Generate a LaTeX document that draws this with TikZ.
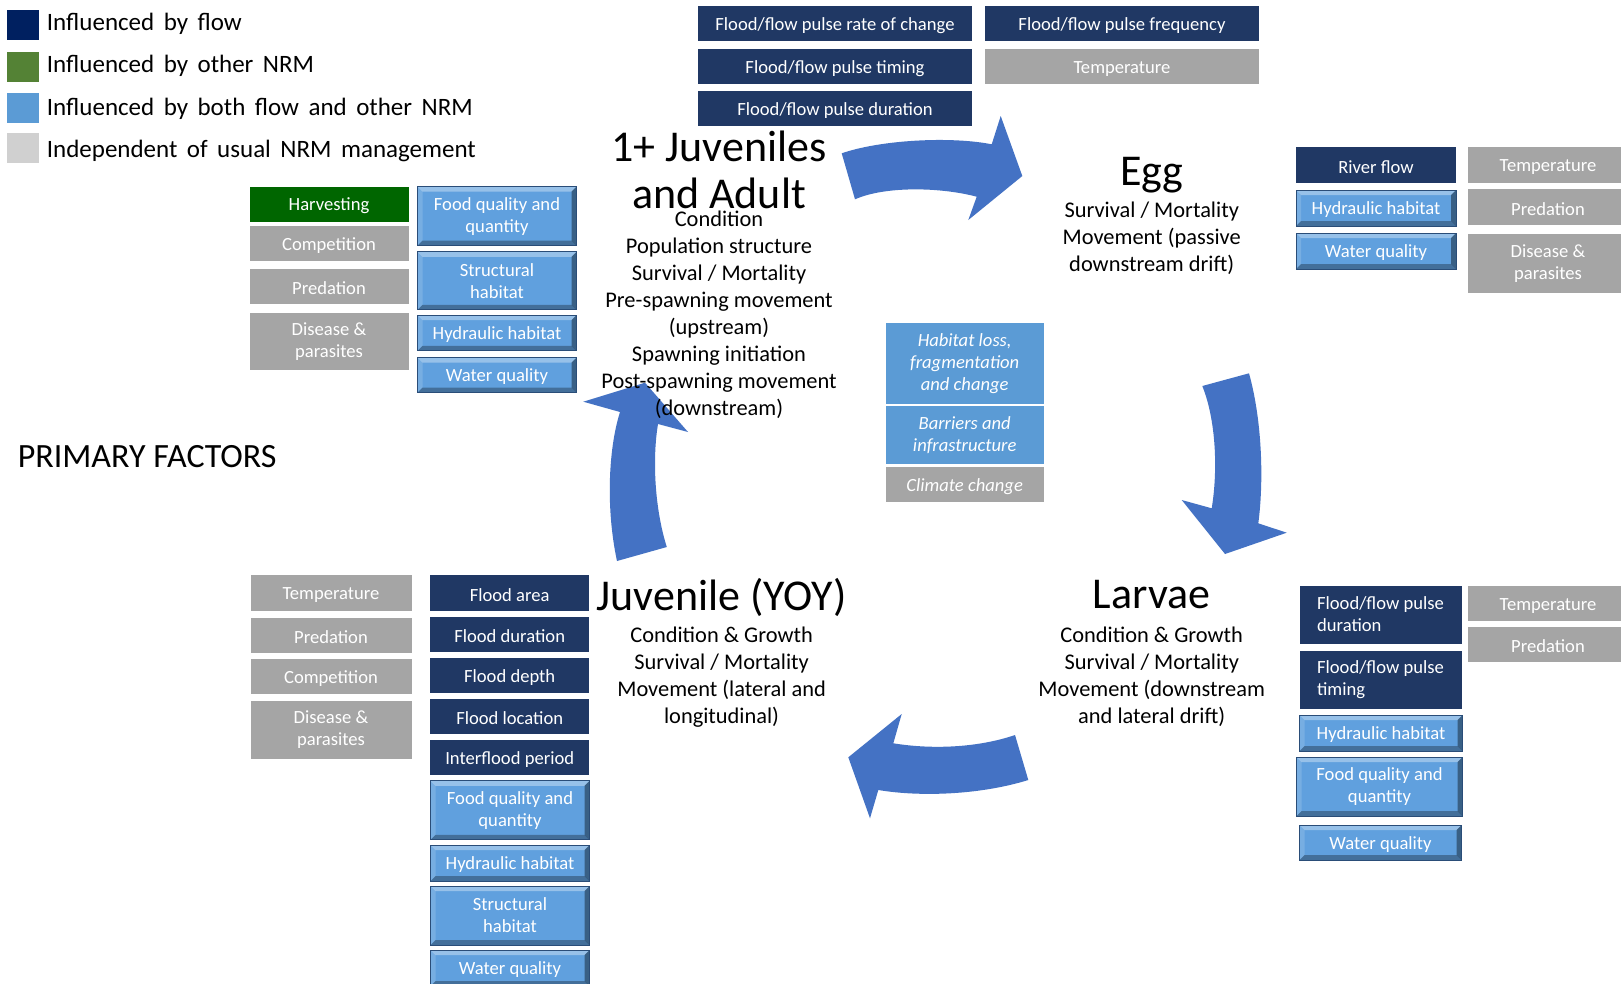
\documentclass[tikz,border=0pt]{standalone}
\usepackage{fontspec}
\setmainfont{Carlito}
\usetikzlibrary{calc}

\definecolor{flowblue}{HTML}{203864}
\definecolor{legnavy}{HTML}{002060}
\definecolor{leggreen}{HTML}{548235}
\definecolor{bothblue}{HTML}{5B9BD5}
\definecolor{leggrey}{HTML}{D0D0D0}
\definecolor{boxgrey}{HTML}{A5A5A5}
\definecolor{harvgreen}{HTML}{006600}
\definecolor{bevelblue}{HTML}{60A0DE}
\definecolor{bevelline}{HTML}{2A4D78}
\definecolor{arrowblue}{HTML}{4472C4}

\newcommand\fbfont{\fontsize{18.6}{22}\selectfont}
\newcommand\ttlfont{\fontsize{44}{47.3}\selectfont}
\newcommand\bdfont{\fontsize{22.4}{27}\selectfont}
\newcommand\legfont{\fontsize{25}{30}\selectfont\spaceskip=0.38em plus 0.05em}

\tikzset{
  % the strut lowers box labels a little so that they sit optically centred
  fbox/.style={rectangle, inner sep=0pt, text=white, font=\fbfont, align=center,
    minimum width=159pt, minimum height=35pt,
    execute at begin node={\rule{0pt}{16.5pt}}},
  wide/.style={minimum width=274pt},
  flowbox/.style={fbox, fill=flowblue},
  greybox/.style={fbox, fill=boxgrey},
  greenbox/.style={fbox, fill=harvgreen},
  flatbox/.style={fbox, fill=bothblue, draw=white, line width=0.8pt, font=\fbfont\itshape},
  bothbox/.style={fbox, fill=bevelblue, draw=bevelline, line width=0.9pt,
    path picture={
      \fill[white,opacity=.35] (path picture bounding box.north west)
        -- (path picture bounding box.north east)
        -- ([shift={(-5pt,-5pt)}]path picture bounding box.north east)
        -- ([shift={(5pt,-5pt)}]path picture bounding box.north west) -- cycle;
      \fill[white,opacity=.15] (path picture bounding box.north west)
        -- ([shift={(5pt,-5pt)}]path picture bounding box.north west)
        -- ([shift={(5pt,5pt)}]path picture bounding box.south west)
        -- (path picture bounding box.south west) -- cycle;
      \fill[black,opacity=.30] (path picture bounding box.south west)
        -- ([shift={(5pt,5pt)}]path picture bounding box.south west)
        -- ([shift={(-5pt,5pt)}]path picture bounding box.south east)
        -- (path picture bounding box.south east) -- cycle;
      \fill[black,opacity=.40] (path picture bounding box.north east)
        -- (path picture bounding box.south east)
        -- ([shift={(-5pt,5pt)}]path picture bounding box.south east)
        -- ([shift={(-5pt,-5pt)}]path picture bounding box.north east) -- cycle;
    }},
  legsq/.style={rectangle, inner sep=0pt, minimum width=32pt, minimum height=30pt},
  legtext/.style={anchor=base west, inner sep=0pt, font=\legfont},
  % multi-line blocks are placed by the baseline of their last line
  ttl/.style={anchor=base, inner sep=0pt, align=center, font=\ttlfont},
  bd/.style={anchor=base, inner sep=0pt, align=center, font=\bdfont},
  cyclearrow/.style={fill=arrowblue}
}

\begin{document}
\begin{tikzpicture}[x=1pt,y=-1pt]
\useasboundingbox (0,0) rectangle (1621,983);
\fill[white] (0,0) rectangle (1621,983);
\clip (0,0) rectangle (1621,983);

% ---- legend ----
\node[legsq, fill=legnavy]  (lsq1) at (23.2,24.5) {};
\node[legsq, fill=leggreen] (lsq2) at (23.2,66.5) {};
\node[legsq, fill=bothblue] (lsq3) at (23.2,108.3) {};
\node[legsq, fill=leggrey]  (lsq4) at (23.2,147.5) {};
\node[legtext] (ltx1) at (46.7,30.7)  {Influenced by flow};
\node[legtext] (ltx2) at (46.7,72.7)  {Influenced by other NRM};
\node[legtext] (ltx3) at (46.7,115)   {Influenced by both flow and other NRM};
\node[legtext] (ltx4) at (46.7,157.3) {Independent of usual NRM management};

\node[anchor=base west, inner sep=0pt, font=\fontsize{34}{38}\selectfont]
  (primary) at (17.6,467) {PRIMARY FACTORS};

% ---- life-cycle arrows ----
\fill[cyclearrow] (841.7,153.3) .. controls (880,140) and (950,136) .. (991.7,144.3)
  -- (1000.7,116) -- (1022.3,176) -- (968.3,220) -- (976.7,196.7)
  .. controls (940,187) and (885,186) .. (855,199.3) -- cycle;
\fill[cyclearrow] (1202.3,386) -- (1249,373.3) .. controls (1262,420) and (1264,480) .. (1258.3,523.3)
  -- (1286.7,532.7) -- (1225,554) -- (1181.7,500) -- (1211.7,508.3)
  .. controls (1218,470) and (1216,420) .. (1202.3,386) -- cycle;
\fill[cyclearrow] (1015,735) -- (1028.3,780) .. controls (980,795) and (920,797) .. (878.3,790)
  -- (870,818.3) -- (848.3,757.3) -- (901.7,714) -- (893.3,743.3)
  .. controls (935,750) and (980,747) .. (1015,735) -- cycle;
\fill[cyclearrow] (617,561) -- (666.8,547) .. controls (655,510) and (652,460) .. (658,424)
  -- (688,432) -- (645,382.7) -- (583.3,401.7) -- (620,412)
  .. controls (608,450) and (606,510) .. (617,561) -- cycle;

% ---- factors above the egg transition ----
\node[flowbox, wide] (t1) at (835,23.5)  {Flood/flow pulse rate of change};
\node[flowbox, wide] (t2) at (1122,23.5) {Flood/flow pulse frequency};
\node[flowbox, wide] (t3) at (835,66.5)  {Flood/flow pulse timing};
\node[greybox, wide] (t4) at (1122,66.5) {Temperature};
\node[flowbox, wide] (t5) at (835,108.5) {Flood/flow pulse duration};

% ---- egg factors ----
\node[flowbox, minimum width=160pt, minimum height=36pt] (e1) at (1376,165) {River flow};
\node[bothbox, minimum width=160pt, minimum height=36pt] (e2) at (1376,208) {Hydraulic habitat};
\node[bothbox, minimum width=160pt, minimum height=36pt] (e3) at (1376,251) {Water quality};
\node[greybox, minimum width=160pt, minimum height=36pt] (e4) at (1548,165) {Temperature};
\node[greybox, minimum width=160pt, minimum height=36pt] (e5) at (1548,207) {Predation};
\node[greybox, minimum width=160pt, minimum height=58.7pt] (e6) at (1548,263.3) {Disease \&\\parasites};

% ---- adult factors ----
\node[greenbox] (a1) at (329,204.3) {Harvesting};
\node[greybox]  (a2) at (329,243.3) {Competition};
\node[greybox]  (a3) at (329,286.7) {Predation};
\node[greybox, minimum height=57pt] (a4) at (329,341.3) {Disease \&\\parasites};
\node[bothbox, minimum height=59pt] (a5) at (497,216.2) {Food quality and\\quantity};
\node[bothbox, minimum height=58pt] (a6) at (497,280.8) {Structural\\habitat};
\node[bothbox, minimum height=35.7pt] (a7) at (497,333) {Hydraulic habitat};
\node[bothbox] (a8) at (497,375) {Water quality};

% ---- juvenile (YOY) factors ----
\node[greybox, minimum width=161pt, minimum height=36pt] (y1) at (331,593) {Temperature};
\node[greybox, minimum width=161pt] (y2) at (331,635) {Predation};
\node[greybox, minimum width=161pt] (y3) at (331,676.3) {Competition};
\node[greybox, minimum width=161pt, minimum height=58pt] (y4) at (331,729.5) {Disease \&\\parasites};
\node[flowbox, minimum height=36pt] (y5) at (509.7,593)   {Flood area};
\node[flowbox, minimum height=35.6pt] (y6) at (509.7,634.5) {Flood duration};
\node[flowbox, minimum height=35.6pt] (y7) at (509.7,675.5) {Flood depth};
\node[flowbox, minimum height=35.3pt] (y8) at (509.7,716.7) {Flood location};
\node[flowbox, minimum height=35pt] (y9) at (509.7,757.5) {Interflood period};
\node[bothbox, minimum height=59pt] (y10) at (510,810.3) {Food quality and\\quantity};
\node[bothbox, minimum height=36pt] (y11) at (510,863) {Hydraulic habitat};
\node[bothbox, minimum height=59pt] (y12) at (510,915.5) {Structural\\habitat};
\node[bothbox, minimum height=36pt] (y13) at (510,968) {Water quality};

% ---- larvae factors ----
\node[flowbox, minimum width=162pt, minimum height=58pt, align=left] (r1) at (1380.5,614.5) {Flood/flow pulse\\duration};
\node[flowbox, minimum width=162pt, minimum height=58pt, align=left] (r2) at (1380.5,680) {Flood/flow pulse\\timing};
\node[bothbox, minimum width=163pt, minimum height=36pt] (r3) at (1381,733) {Hydraulic habitat};
\node[bothbox, minimum width=166pt, minimum height=59pt] (r4) at (1379.5,786.7) {Food quality and\\quantity};
\node[bothbox, minimum width=162pt, minimum height=35pt] (r5) at (1380.5,842.5) {Water quality};
\node[greybox, minimum width=160pt] (r6) at (1548,603.3) {Temperature};
\node[greybox, minimum width=160pt, minimum height=35.6pt] (r7) at (1548,644.5) {Predation};

% ---- broad threats ----
\node[flatbox, minimum height=81.6pt] (c1) at (964.7,363.5) {Habitat loss,\\fragmentation\\and change};
\node[flatbox, minimum height=58.7pt] (c2) at (964.7,434.7) {Barriers and\\infrastructure};
\node[greybox, draw=white, line width=0.8pt, font=\fbfont\itshape, minimum height=36pt] (c3) at (964.7,484.7) {Climate change};

% ---- life stages ----
\node[ttl] (adT) at (719,208.3) {1+ Juveniles\\and Adult};
\node[bd]  (adB) at (719,415) {Condition\\Population structure\\Survival / Mortality\\Pre-spawning movement\\(upstream)\\Spawning initiation\\Post-spawning movement\\(downstream)};

\node[ttl] (egT) at (1151.7,185) {Egg};
\node[bd]  (egB) at (1151.7,271.4) {Survival / Mortality\\Movement (passive\\downstream drift)};

\node[ttl] (lvT) at (1151.7,608) {Larvae};
\node[bd]  (lvB) at (1151.7,723.2) {Condition \& Growth\\Survival / Mortality\\Movement (downstream\\and lateral drift)};

\node[ttl] (yoT) at (721.6,610) {Juvenile (YOY)};
\node[bd]  (yoB) at (721.6,723.2) {Condition \& Growth\\Survival / Mortality\\Movement (lateral and\\longitudinal)};

\end{tikzpicture}
\end{document}
